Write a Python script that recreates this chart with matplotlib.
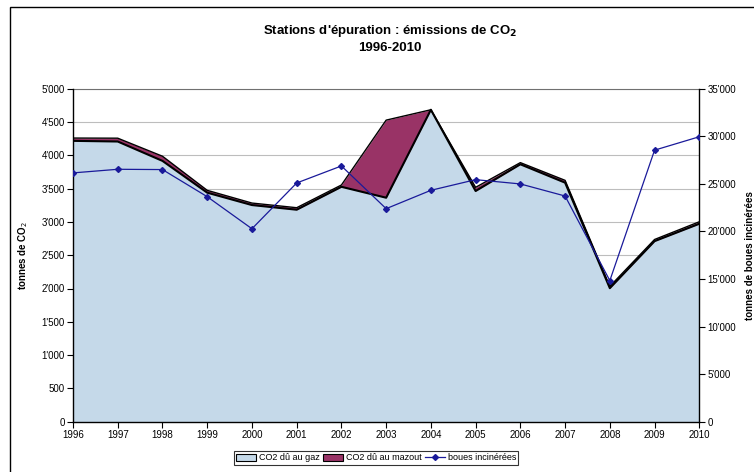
import matplotlib
matplotlib.use("Agg")
import matplotlib.pyplot as plt
from matplotlib.ticker import FuncFormatter, MultipleLocator
from matplotlib.patches import Rectangle, Patch
from matplotlib.lines import Line2D
import numpy as np

plt.rcParams['font.family'] = ['Liberation Sans', 'DejaVu Sans']

years = [1996, 1997, 1998, 1999, 2000, 2001, 2002, 2003, 2004, 2005, 2006, 2007, 2008, 2009, 2010]
co2_gaz = [4217, 4207, 3916, 3439, 3253, 3183, 3527, 3363, 4684, 3464, 3865, 3589, 2005, 2711, 2972]
co2_mazout = [42, 50, 70, 35, 30, 30, 27, 1165, 0, 55, 25, 35, 28, 25, 30]
boues = [26150, 26530, 26500, 23650, 20280, 25090, 26880, 22390, 24320, 25440, 24990, 23720, 14830, 28540, 29950]

c_gaz = '#C5D9E9'
c_maz = '#993366'
c_line = '#1A1A9A'

W, H = 754, 472
fig = plt.figure(figsize=(W/100, H/100), dpi=100)
ax = fig.add_axes([73/W, 1-421.7/H, (699.3-73)/W, (421.7-88.7)/H])

x = np.array(years)
gaz = np.array(co2_gaz)
tot = gaz + np.array(co2_mazout)

ax.fill_between(x, 0, gaz, color=c_gaz, lw=0, zorder=2)
ax.fill_between(x, gaz, tot, color=c_maz, lw=0, zorder=2)
ax.plot(x, gaz, color='black', lw=1.5, zorder=3)
ax.plot(x, tot, color='black', lw=1.0, zorder=3)

ax.set_xlim(1996, 2010)
ax.set_ylim(0, 5000)
ax.yaxis.set_major_locator(MultipleLocator(500))
ax.set_xticks(years)
ax.set_xticklabels([str(y) for y in years])
fmt = FuncFormatter(lambda v, p: f"{int(v):,}".replace(',', "'"))
ax.yaxis.set_major_formatter(fmt)
ax.grid(axis='y', color='#BDBDBD', lw=0.8, zorder=1)
ax.set_axisbelow(True)
for s in ['left', 'bottom']:
    ax.spines[s].set_color('black')
    ax.spines[s].set_linewidth(1.0)
ax.spines['top'].set_color('#707070')
ax.spines['top'].set_linewidth(0.8)
ax.spines['right'].set_visible(False)
ax.tick_params(axis='both', direction='out', length=4, width=0.8, labelsize=7, pad=2)
ax.spines['left'].set_zorder(5)
ax.spines['bottom'].set_zorder(5)

ax2 = ax.twinx()
ax2.plot(x, boues, color=c_line, lw=0.9, marker='D', ms=3, zorder=4)
ax2.set_ylim(0, 35000)
ax2.yaxis.set_major_locator(MultipleLocator(5000))
ax2.yaxis.set_major_formatter(fmt)
ax2.spines['right'].set_color('black')
ax2.spines['right'].set_linewidth(1.0)
for s in ['left', 'top', 'bottom']:
    ax2.spines[s].set_visible(False)
ax2.tick_params(axis='y', direction='out', length=4, width=0.8, labelsize=7, pad=2)

ax.set_ylabel('tonnes de CO$_2$', fontsize=7, fontweight='bold', labelpad=8)
ax2.set_ylabel('tonnes de boues incinérées', fontsize=7, fontweight='bold', labelpad=6)

fig.text(390/W, 1-31/H, "Stations d'épuration : émissions de CO$_\\mathbf{2}$",
         ha='center', va='center', fontsize=9.5, fontweight='bold')
fig.text(390/W, 1-48/H, "1996-2010", ha='center', va='center', fontsize=9.5, fontweight='bold')

handles = [Patch(facecolor=c_gaz, edgecolor='black', lw=0.8),
           Patch(facecolor=c_maz, edgecolor='black', lw=0.8),
           Line2D([0], [0], color=c_line, lw=0.9, marker='D', ms=3)]
labels = ['CO2 dû au gaz', 'CO2 dû au mazout', 'boues incinérées']
leg = fig.legend(handles, labels, loc='center', bbox_to_anchor=(376/W, 1-458/H), ncol=3,
                 fontsize=6.5, frameon=True, fancybox=False, edgecolor='black',
                 handlelength=2.2, handleheight=0.9, handletextpad=0.3, columnspacing=0.4,
                 borderpad=0.25, borderaxespad=0)
leg.get_frame().set_linewidth(0.8)

fig.patches.append(Rectangle((10/W, -0.1), 1.2, 1 - 7/H + 0.1, transform=fig.transFigure,
                             fill=False, edgecolor='black', lw=1.0))

fig.savefig('out.png', dpi=100)
